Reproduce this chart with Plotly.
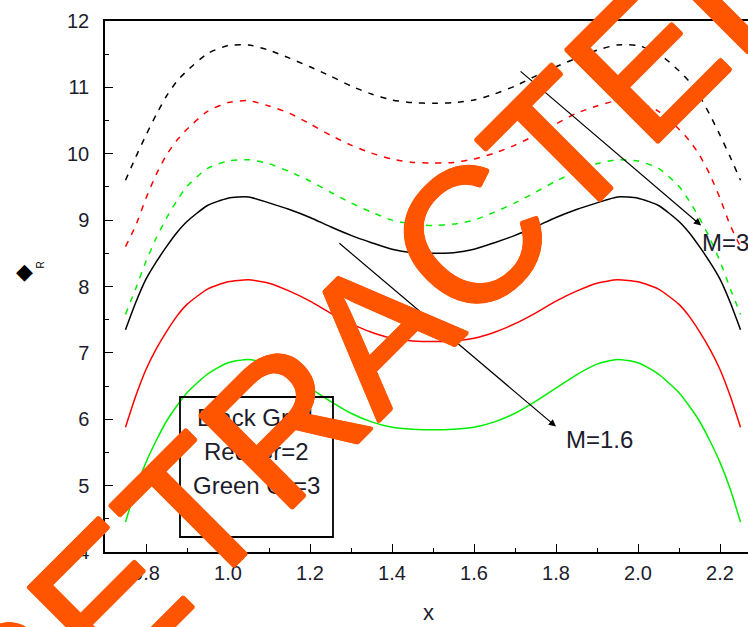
import plotly.graph_objects as go

# ---- data ----
x_vals = [0.75, 0.775, 0.80, 0.825, 0.85, 0.875, 0.90, 0.95, 1.00, 1.05, 1.10, 1.15, 1.20, 1.25,
          1.30, 1.35, 1.40, 1.45, 1.50, 1.55, 1.60, 1.65, 1.70, 1.75, 1.80, 1.85, 1.90, 1.95,
          2.00, 2.05, 2.10, 2.125, 2.15, 2.175, 2.20, 2.225, 2.25]

# M = 1.6 (solid)
black_m16 = [7.35, 7.76, 8.11, 8.37, 8.60, 8.81, 8.98, 9.22, 9.33, 9.35, 9.26, 9.16, 9.04, 8.90,
             8.77, 8.66, 8.56, 8.51, 8.50, 8.51, 8.56, 8.66, 8.77, 8.90, 9.04, 9.16, 9.26, 9.35,
             9.33, 9.22, 8.98, 8.81, 8.60, 8.37, 8.11, 7.76, 7.35]
red_m16 = [5.88, 6.35, 6.75, 7.06, 7.32, 7.55, 7.73, 7.96, 8.07, 8.10, 8.05, 7.93, 7.78, 7.60,
           7.44, 7.31, 7.22, 7.18, 7.17, 7.18, 7.22, 7.31, 7.44, 7.60, 7.78, 7.93, 8.05, 8.10,
           8.07, 7.96, 7.73, 7.55, 7.32, 7.06, 6.75, 6.35, 5.88]
green_m16 = [4.45, 4.95, 5.35, 5.68, 5.97, 6.20, 6.40, 6.68, 6.85, 6.90, 6.83, 6.67, 6.47, 6.27,
             6.09, 5.96, 5.88, 5.85, 5.84, 5.85, 5.88, 5.96, 6.09, 6.27, 6.47, 6.67, 6.83, 6.90,
             6.85, 6.68, 6.40, 6.20, 5.97, 5.68, 5.35, 4.95, 4.45]

# M = 3 (dashed)
black_m3 = [9.60, 9.95, 10.28, 10.59, 10.87, 11.09, 11.25, 11.51, 11.63, 11.64, 11.56, 11.44, 11.31, 11.17,
            11.02, 10.90, 10.81, 10.77, 10.76, 10.77, 10.81, 10.90, 11.02, 11.17, 11.31, 11.44, 11.56, 11.64,
            11.63, 11.51, 11.25, 11.09, 10.87, 10.59, 10.28, 9.95, 9.60]
red_m3 = [8.60, 8.92, 9.33, 9.69, 9.98, 10.20, 10.37, 10.64, 10.77, 10.80, 10.72, 10.61, 10.45, 10.28,
          10.13, 10.01, 9.92, 9.87, 9.86, 9.87, 9.92, 10.01, 10.13, 10.28, 10.45, 10.61, 10.72, 10.80,
          10.77, 10.64, 10.37, 10.20, 9.98, 9.69, 9.33, 8.92, 8.60]
green_m3 = [7.58, 7.97, 8.38, 8.73, 9.03, 9.29, 9.51, 9.78, 9.89, 9.91, 9.85, 9.73, 9.59, 9.42,
            9.26, 9.12, 9.00, 8.94, 8.92, 8.94, 9.00, 9.12, 9.26, 9.42, 9.59, 9.73, 9.85, 9.91,
            9.89, 9.78, 9.51, 9.29, 9.03, 8.73, 8.38, 7.97, 7.58]

x_ticks = [0.8, 1.0, 1.2, 1.4, 1.6, 1.8, 2.0, 2.2]
x_tick_text = ["0.8", "1.0", "1.2", "1.4", "1.6", "1.8", "2.0", "2.2"]
y_ticks = [4, 5, 6, 7, 8, 9, 10, 11, 12]
legend_lines = ["Black Gr=1", "Red Gr=2", "Green Gr=3"]

FONT = "Liberation Sans, Arial, sans-serif"
TXT = "#1c1c2c"
WM = "#ff5500"

fig = go.Figure()
series = [
    (black_m3, "#000000", "6px,7px"), (red_m3, "#ff0000", "6px,7px"), (green_m3, "#00ee00", "6px,7px"),
    (black_m16, "#000000", "solid"), (red_m16, "#ff0000", "solid"), (green_m16, "#00ee00", "solid"),
]
for ys, col, dash in series:
    fig.add_trace(go.Scatter(x=x_vals, y=ys, mode="lines",
                             line=dict(color=col, width=1.5, dash=dash, shape="spline", smoothing=0.6),
                             showlegend=False, hoverinfo="skip"))

L, R, T, B = 105, 0, 21, 75
W, H = 748, 627
pw, ph = W - L - R, H - T - B

def px2paper(px, py):
    return (px - L) / pw, (H - B - py) / ph

annotations = []
# arrows
annotations.append(dict(x=1.80, y=5.89, ax=1.268, ay=8.67, xref="x", yref="y", axref="x", ayref="y",
                        showarrow=True, arrowhead=2, arrowsize=1.2, arrowwidth=1.2, arrowcolor="#000", text=""))
annotations.append(dict(x=2.154, y=8.92, ax=1.71, ay=11.26, xref="x", yref="y", axref="x", ayref="y",
                        showarrow=True, arrowhead=2, arrowsize=1.2, arrowwidth=1.2, arrowcolor="#000", text=""))
annotations.append(dict(x=1.82, y=5.69, xref="x", yref="y", text="M=1.6", showarrow=False,
                        xanchor="left", yanchor="middle", font=dict(family=FONT, size=24, color=TXT)))
annotations.append(dict(x=2.150, y=8.67, xref="x", yref="y", text="M=3", showarrow=False,
                        xanchor="left", yanchor="middle", font=dict(family=FONT, size=24, color=TXT)))
# legend box text
for txt, py in zip(legend_lines, [417, 451, 485]):
    xp, yp = px2paper(256, py)
    annotations.append(dict(x=xp, y=yp, xref="paper", yref="paper", text=txt, showarrow=False,
                            xanchor="center", yanchor="middle", font=dict(family=FONT, size=24, color=TXT)))
# axis titles
xp, yp = px2paper(428, 626)
annotations.append(dict(x=xp, y=yp, xref="paper", yref="paper", text="x", showarrow=False,
                        yanchor="bottom", borderpad=0, font=dict(family=FONT, size=22, color=TXT)))
xp, yp = px2paper(14, 271)
annotations.append(dict(x=xp, y=yp, xref="paper", yref="paper", text="◆", showarrow=False,
                        font=dict(family="DejaVu Sans", size=22, color="#000")))
xp, yp = px2paper(32, 265)
annotations.append(dict(x=xp, y=yp, xref="paper", yref="paper", text="R", showarrow=False, textangle=-90,
                        font=dict(family=FONT, size=10, color="#000")))
# watermark
d = 1.6
shadow = ", ".join(f"{a}px {b}px 0 {WM}" for a, b in
                   [(d, 0), (-d, 0), (0, d), (0, -d), (d * 0.7, d * 0.7), (-d * 0.7, -d * 0.7),
                    (d * 0.7, -d * 0.7), (-d * 0.7, d * 0.7)])
xp, yp = px2paper(376, 331)
annotations.append(dict(x=xp, y=yp, xref="paper", yref="paper", text="RETRACTED", showarrow=False,
                        textangle=-45, xanchor="center", yanchor="middle",
                        font=dict(family=FONT, size=190, color=WM, shadow=shadow)))

x0, y0 = px2paper(180, 537)
x1, y1 = px2paper(333, 397)
fig.add_shape(type="rect", xref="paper", yref="paper", x0=x0, y0=y0, x1=x1, y1=y1,
              line=dict(color="#000", width=1.8), fillcolor="rgba(0,0,0,0)", layer="above")

fig.update_layout(
    width=W, height=H, margin=dict(l=L, r=R, t=T, b=B),
    paper_bgcolor="white", plot_bgcolor="white",
    annotations=annotations,
    xaxis=dict(range=[0.7, 0.7 + pw / 410.0], tickvals=x_ticks, ticktext=x_tick_text,
               showline=True, linecolor="#000", linewidth=1.5, mirror=True,
               ticks="inside", ticklen=8, tickwidth=1.2, tickcolor="#000",
               minor=dict(ticks="inside", ticklen=4, dtick=0.1, tick0=0.7, tickcolor="#000", tickwidth=1.2),
               showgrid=False, zeroline=False,
               tickfont=dict(family=FONT, size=20, color=TXT), ticklabelstandoff=2),
    yaxis=dict(range=[4, 12], tickvals=y_ticks,
               showline=True, linecolor="#000", linewidth=1.5, mirror=False,
               ticks="inside", ticklen=8, tickwidth=1.2, tickcolor="#000",
               minor=dict(ticks="inside", ticklen=4, dtick=0.5, tick0=4, tickcolor="#000", tickwidth=1.2),
               showgrid=False, zeroline=False,
               tickfont=dict(family=FONT, size=20, color=TXT), ticklabelstandoff=10),
)

fig.write_html("out.html", config={"displayModeBar": False},
               post_script="document.body.style.margin='0';")
